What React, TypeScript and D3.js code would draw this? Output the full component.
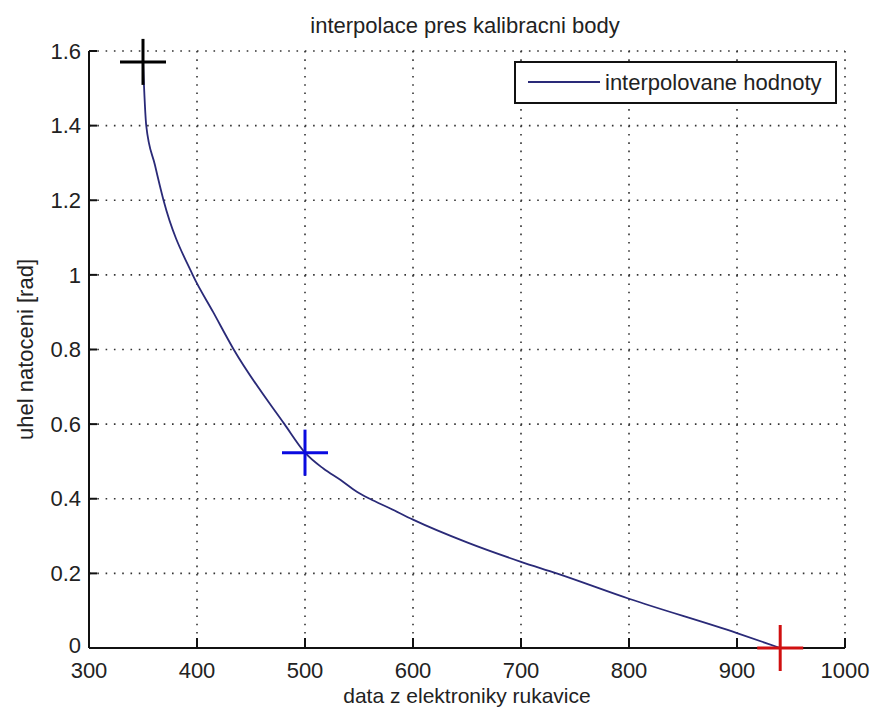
import React from "react";
import { scaleLinear, line, curveMonotoneX } from "d3";

const width = 873;
const height = 707;
const margin = { top: 51, right: 28, bottom: 59, left: 89 };
const innerWidth = width - margin.left - margin.right;
const innerHeight = height - margin.top - margin.bottom;

// values
const curveX = [350, 353, 361, 369, 396, 415, 434, 481, 500, 517, 533, 548, 560, 579, 600, 650, 700, 733, 800, 900, 940];
const curveY = [1.5708, 1.4, 1.295, 1.2, 1.0, 0.9, 0.8, 0.6, 0.5236, 0.481, 0.45, 0.419, 0.4, 0.374, 0.344, 0.283, 0.231, 0.2, 0.132, 0.04, 0];

// calibration points
const calibX = [350, 500, 940];
const calibY = [1.5708, 0.5236, 0];
const calibColors = ["#000000", "#0a0ae0", "#d01010"];

const xTicks = [300, 400, 500, 600, 700, 800, 900, 1000];
const yTicks = [0, 0.2, 0.4, 0.6, 0.8, 1, 1.2, 1.4, 1.6];

const title = "interpolace pres kalibracni body";
const xLabel = "data z elektroniky rukavice";
const yLabel = "uhel natoceni [rad]";
const legendLabel = "interpolovane hodnoty";

const font = "'Liberation Sans', Arial, sans-serif";
const ink = "#222";

export default function App() {
  const xScale = scaleLinear().domain([300, 1000]).range([0, innerWidth]);
  const yScale = scaleLinear().domain([0, 1.6]).range([innerHeight, 0]);

  const data = curveX.map((x, i) => ({ x, y: curveY[i] }));
  const path = line().x(d => xScale(d.x)).y(d => yScale(d.y)).curve(curveMonotoneX)(data);

  return (
    <svg width={width} height={height} style={{ position: "absolute", left: 0, top: 0, background: "#fff" }}>
      <rect width={width} height={height} fill="#fff" />
      <g transform={`translate(${margin.left},${margin.top})`}>
        {/* grid */}
        {xTicks.slice(1).map(t => (
          <line key={"gx" + t} x1={xScale(t)} x2={xScale(t)} y1={0} y2={innerHeight}
            stroke="#333" strokeWidth={1.6} strokeDasharray="1.6 6.7" />
        ))}
        {yTicks.slice(1).map(t => (
          <line key={"gy" + t} x1={0} x2={innerWidth} y1={yScale(t)} y2={yScale(t)}
            stroke="#333" strokeWidth={1.6} strokeDasharray="1.6 6.7" />
        ))}

        {/* axes */}
        <line x1={0} x2={innerWidth} y1={innerHeight} y2={innerHeight} stroke="#111" strokeWidth={2} />
        <line x1={0} x2={0} y1={0} y2={innerHeight} stroke="#111" strokeWidth={2} />
        {xTicks.map(t => (
          <g key={"tx" + t} transform={`translate(${xScale(t)},${innerHeight})`}>
            <line y1={0} y2={-10} stroke="#111" strokeWidth={2} />
            <text y={30} textAnchor="middle" fontSize={22} fontFamily={font} fill={ink}>{t}</text>
          </g>
        ))}
        {yTicks.map(t => (
          <g key={"ty" + t} transform={`translate(0,${yScale(t)})`}>
            <line x1={0} x2={8} stroke="#111" strokeWidth={2} />
            <text x={-8} dy={t === 0 ? "0.22em" : "0.35em"} textAnchor="end" fontSize={22} fontFamily={font} fill={ink}>{String(t)}</text>
          </g>
        ))}

        <path d={path} fill="none" stroke="#2a2a78" strokeWidth={1.8} />

        {calibX.map((x, i) => (
          <g key={"m" + i} transform={`translate(${xScale(x)},${yScale(calibY[i])})`} stroke={calibColors[i]} strokeWidth={3}>
            <line x1={-23} x2={23} y1={0} y2={0} />
            <line x1={0} x2={0} y1={-23} y2={23} />
          </g>
        ))}

        {/* legend */}
        <g transform={`translate(${515 - margin.left},${62 - margin.top})`}>
          <rect x={0} y={0} width={321} height={41} fill="#fff" stroke="#111" strokeWidth={2} />
          <line x1={13} x2={85} y1={20} y2={20} stroke="#2a2a78" strokeWidth={1.8} />
          <text x={90} y={28} fontSize={22} fontFamily={font} fill={ink}>{legendLabel}</text>
        </g>
      </g>

      <text x={465} y={33} textAnchor="middle" fontSize={22} fontFamily={font} fill={ink}>{title}</text>
      <text x={467} y={703} textAnchor="middle" fontSize={21} fontFamily={font} fill={ink}>{xLabel}</text>
      <text transform={`translate(33,${margin.top + innerHeight / 2}) rotate(-90)`} textAnchor="middle"
        fontSize={22} fontFamily={font} fill={ink}>{yLabel}</text>
    </svg>
  );
}
